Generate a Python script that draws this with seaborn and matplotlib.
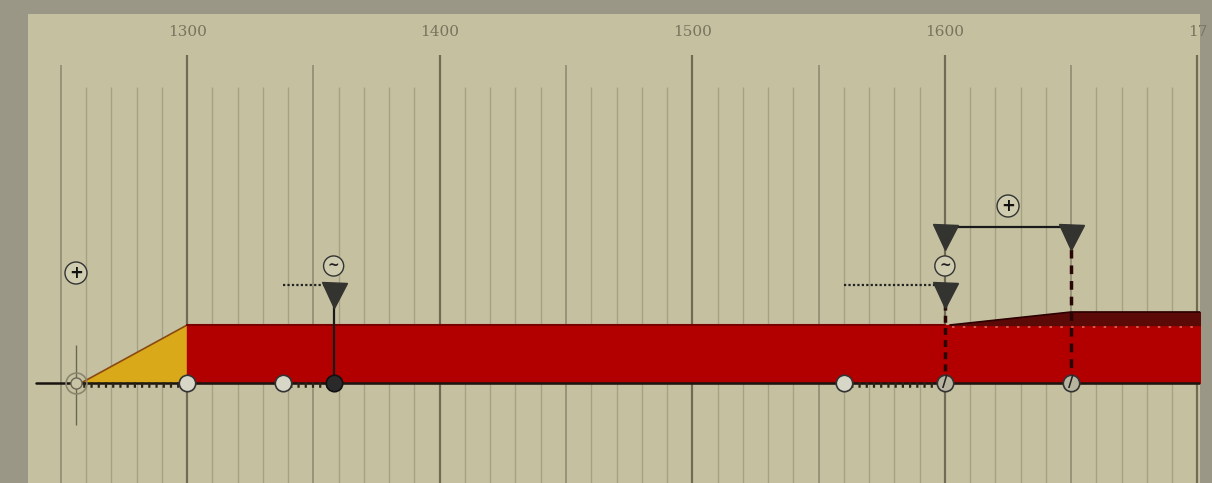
import numpy as np
import matplotlib.pyplot as plt
import seaborn as sns

# Timeline data (years)
label_years = [1300, 1400, 1500, 1600, 1700]
label_text = ["1300", "1400", "1500", "1600", "17"]
grid_years = list(range(1250, 1710, 10))
start_year = 1256
ramp_end = 1300
band_end = 1706
band_height = 58
raised_height = 71
open_circles = [1300, 1338, 1560]
dark_circles = [1358]
crossed_circles = [1600, 1650]
approx_from = [1338, 1560]
approx_to = [1358, 1600]
bracket = [1600, 1650]

bg = "#c5c1a0"
frame = "#9b9786"
red = "#b20000"
yellow = "#d9a91a"

sns.set_style("white", {"axes.facecolor": bg})
fig = plt.figure(figsize=(12.12, 4.83), dpi=100, facecolor=frame)
ax = fig.add_axes([28 / 1212, 0, 1172 / 1212, 469 / 483])
ax.set_xlim(1237, 1701)
ax.set_ylim(-100, 369)
for s in ax.spines.values():
    s.set_visible(False)
ax.set_yticks([])

# grid lines: 10 / 50 / 100 years
for yr in grid_years:
    if yr % 100 == 0:
        ax.vlines(yr, -100, 328, color="#6f6b55", lw=1.6, zorder=1)
    elif yr % 50 == 0:
        ax.vlines(yr, -100, 318, color="#8f8b72", lw=1.2, zorder=1)
    else:
        ax.vlines(yr, -100, 296, color="#a5a185", lw=1.0, zorder=1)

# top labels
ax.xaxis.tick_top()
ax.set_xticks(label_years)
ax.set_xticklabels(label_text, family="DejaVu Serif", fontsize=11, color="#77735e")
ax.tick_params(axis="x", length=0, pad=-18, top=True, bottom=False)

# yellow ramp and red band
ax.fill_between([start_year + 2, ramp_end], [0, 0], [0, band_height], color=yellow, zorder=3)
ax.plot([start_year + 2, ramp_end], [0, band_height], color="#8a4a10", lw=1.2, zorder=4)
ax.fill_between([ramp_end, band_end], 0, band_height, color=red, zorder=3)
ax.plot([ramp_end, bracket[0]], [band_height, band_height], color="#7a0000", lw=1.5, zorder=4)
ax.fill_between([bracket[0] + 2, bracket[1], band_end],
                [band_height, raised_height, raised_height],
                [band_height] * 3, color="#5c0a08", zorder=3)
ax.plot([bracket[0] + 2, bracket[1], band_end],
        [band_height, raised_height, raised_height], color="#2a0000", lw=1.2, zorder=4)
ax.plot([bracket[0] + 3, band_end], [band_height - 2, band_height - 2],
        color="#d86a5a", lw=1.2, ls=(0, (1.5, 5)), zorder=4)

# baseline and hatched stretches
ax.plot([1240, band_end], [0, 0], color="#1a1410", lw=1.8, zorder=5)
ax.plot([start_year, ramp_end], [-2, -2], color="#2a2418", lw=4, ls=(0, (0.4, 0.9)), zorder=5)
for a, b in zip(approx_from, approx_to):
    ax.plot([a, b], [-2, -2], color="#2a2418", lw=4, ls=(0, (0.4, 0.9)), zorder=5)

# start marker
ax.vlines(start_year, -42, 38, color="#6a6656", lw=1.0, zorder=4)
ax.plot(start_year, 0, "o", ms=15, mfc="none", mec="#8a866e", mew=1.2, zorder=6)
ax.plot(start_year, 0, "o", ms=8, mfc="#c8c4a6", mec="#6a6656", mew=1.0, zorder=6)

# approx markers (dotted lead + triangle)
for a, b in zip(approx_from, approx_to):
    ax.plot([a, b], [98, 98], color="#222", lw=1.6, ls=(0, (1, 1)), zorder=6)
    ax.plot(b, 88, "v", ms=18, color="#333330", zorder=7)
    ax.text(b, 117, "~", ha="center", va="center", fontsize=10, fontweight="bold", color="#222",
            bbox=dict(boxstyle="circle,pad=0.22", fc="#d0ccb0", ec="#333", lw=1.0), zorder=7)
ax.vlines(approx_to[0], 0, 88, color="#1a1a1a", lw=1.6, zorder=6)

# bracket between two dates
ax.plot(bracket, [156, 156], color="#1a1a1a", lw=1.6, zorder=6)
for b in bracket:
    ax.plot(b, 146, "v", ms=18, color="#333330", zorder=7)
ax.vlines(bracket[0], 0, 88, color="#2a0505", lw=2.5, ls=(0, (2, 1.5)), zorder=6)
ax.vlines(bracket[1], 0, 146, color="#2a0505", lw=2.5, ls=(0, (2.5, 2)), zorder=6)
ax.text(np.mean(bracket), 177, "+", ha="center", va="center", fontsize=12, fontweight="bold",
        color="#111", bbox=dict(boxstyle="circle,pad=0.12", fc="#d0ccb0", ec="#333", lw=1.0), zorder=7)
ax.text(start_year, 110, "+", ha="center", va="center", fontsize=12, fontweight="bold",
        color="#111", bbox=dict(boxstyle="circle,pad=0.12", fc="#d0ccb0", ec="#333", lw=1.0), zorder=7)

# circles on the baseline
sns.scatterplot(x=open_circles, y=[0] * len(open_circles), s=140, color="#d8d6c6",
                edgecolor="#333", linewidth=1.2, zorder=8, ax=ax)
sns.scatterplot(x=dark_circles, y=[0] * len(dark_circles), s=140, color="#2a2a2a",
                edgecolor="#111", linewidth=1.2, zorder=8, ax=ax)
sns.scatterplot(x=crossed_circles, y=[0] * len(crossed_circles), s=140, color="#b8b4a0",
                edgecolor="#333", linewidth=1.2, zorder=8, ax=ax)
for c in crossed_circles:
    ax.text(c, 0, "/", ha="center", va="center", fontsize=11, fontweight="bold",
            color="#222", zorder=9)

fig.savefig("out.png", dpi=100, facecolor=frame)
